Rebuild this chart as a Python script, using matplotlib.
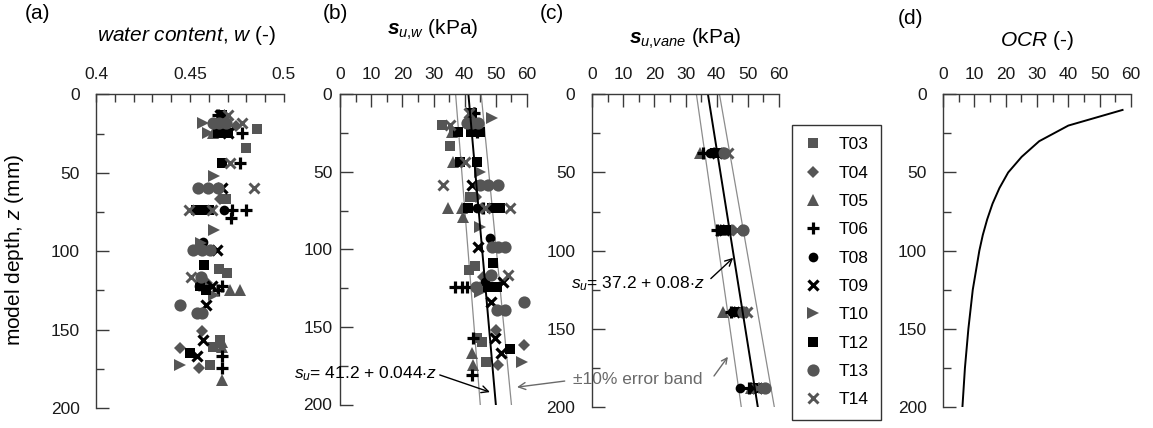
import matplotlib
matplotlib.use('Agg')
import matplotlib.pyplot as plt
import matplotlib.ticker as ticker

plt.rcParams['font.family'] = ['Liberation Sans', 'DejaVu Sans']
plt.rcParams['mathtext.fontset'] = 'custom'
plt.rcParams['mathtext.rm'] = 'Liberation Sans'
plt.rcParams['mathtext.it'] = 'Liberation Sans:italic'
plt.rcParams['mathtext.bf'] = 'Liberation Sans:bold'
try:
	plt.rcParams['mathtext.bfit'] = 'Liberation Sans:italic:bold'
	S_BOLD = r'\mathbfit{s}'
except KeyError:
	S_BOLD = r'\mathbf{s}'

tests = ['T03', 'T04', 'T05', 'T06', 'T08', 'T09', 'T10', 'T12', 'T13', 'T14']

# panel (a): depth (mm) and water content (-)
T03_za = [22.3, 34.4, 66.7, 111.5, 114, 156.5, 160.8, 172.4]
T03_w = [0.4855, 0.4798, 0.469, 0.4656, 0.4695, 0.466, 0.4624, 0.4606]
T04_za = [20, 66.7, 120, 151.2, 161.8, 174.5]
T04_w = [0.4745, 0.466, 0.459, 0.4562, 0.4447, 0.455]
T05_za = [24.8, 124.6, 124.6, 158, 161, 182]
T05_w = [0.462, 0.4713, 0.4766, 0.467, 0.467, 0.4672]
T06_za = [13.2, 24.8, 44, 73.7, 73.7, 79, 122.5, 124.6, 166.7, 174.5]
T06_w = [0.465, 0.4775, 0.4766, 0.4726, 0.480, 0.4716, 0.4668, 0.4649, 0.4668, 0.4668]
T08_za = [18.5, 73.7, 93.9, 122.5]
T08_w = [0.467, 0.4683, 0.457, 0.455]
T09_za = [13.2, 24.8, 59.9, 99.2, 122.5, 134.2, 156.5, 166.7]
T09_w = [0.466, 0.470, 0.467, 0.4645, 0.4617, 0.4585, 0.4567, 0.4535]
T10_za = [18.5, 24.8, 52, 86.4, 95, 127.8, 172.4]
T10_w = [0.4567, 0.4596, 0.4625, 0.4625, 0.456, 0.4625, 0.4447]
T12_za = [13.2, 24.8, 24.8, 44, 73.7, 73.7, 73.7, 108.7, 122.5, 124.6, 165]
T12_w = [0.467, 0.465, 0.470, 0.4669, 0.453, 0.457, 0.460, 0.4576, 0.4555, 0.4583, 0.450]
T13_za = [18.5, 18.5, 18.5, 59.9, 59.9, 59.9, 99.2, 99.2, 99.2, 116.2, 134.2, 139.5, 139.5]
T13_w = [0.462, 0.4655, 0.469, 0.4544, 0.4598, 0.465, 0.4518, 0.4562, 0.4606, 0.456, 0.4447, 0.4535, 0.4562]
T14_za = [13.2, 18.5, 44, 59.9, 73.7, 73.7, 116.2]
T14_w = [0.470, 0.4775, 0.4713, 0.4842, 0.4495, 0.4617, 0.4504]

# panel (b): depth (mm) and su,w (kPa)
T03_zb = [19.8, 33.4, 66, 111, 113.4, 157.4, 159.6, 172.5]
T03_suw = [32.6, 35.3, 41.7, 43.3, 41.5, 44.0, 45.5, 46.9]
T04_zb = [20, 66, 118, 152, 161.8, 174.7]
T04_suw = [44, 43.5, 46, 50.1, 59.1, 50.8]
T05_zb = [24.1, 43.5, 73.5, 73.5, 79, 124.1, 167.1, 174.7]
T05_suw = [36, 36.4, 34.8, 39.1, 39.6, 45, 42.3, 42.8]
T06_zb = [12.3, 24.1, 73.5, 124.1, 124.1, 124.1, 157.4, 181.1]
T06_suw = [43, 44, 46, 36.9, 39.1, 40.7, 42.6, 42.5]
T08_zb = [20, 73.5, 92.9, 120.9]
T08_suw = [43, 44, 48.2, 46.5]
T09_zb = [12.3, 58.5, 98.3, 120.9, 133.8, 157.4, 167.1]
T09_suw = [41.8, 42.3, 44.4, 52.4, 48.4, 49.8, 51.6]
T10_zb = [15.5, 24.1, 49.9, 85.4, 127.4, 172.5]
T10_suw = [48.7, 36.8, 44.9, 44.9, 44.9, 58.3]
T12_zb = [12.3, 24.1, 24.1, 24.1, 43.5, 43.5, 73.5, 73.5, 73.5, 109, 124.1, 124.1, 163.9]
T12_suw = [42.3, 38, 42, 44.9, 38.5, 43.9, 41, 48.7, 51.4, 49, 47.6, 50.3, 54.6]
T13_zb = [18.7, 18.7, 18.7, 58.5, 58.5, 58.5, 98.3, 98.3, 98.3, 116.6, 124.1, 133.8, 139.2, 139.2]
T13_suw = [40.7, 42.5, 44.4, 44.9, 47.6, 50.8, 48.7, 50.8, 53, 48.5, 43.5, 59.1, 50.5, 53]
T14_zb = [12.3, 19.8, 43.5, 58.5, 73.5, 73.5, 116.6]
T14_suw = [41.5, 35.2, 40.1, 33.2, 46.4, 54.6, 54.0]

# panel (c): vane tests at four depths (mm), su,vane (kPa)
vane_z = [37.7, 86.7, 139, 188]
T03_vane = [40.5, 43.5, 47.5, 52.5]
T04_vane = [42, 45, 48, 53.5]
T05_vane = [34.7, 41.5, 42.1, 51]
T06_vane = [35.7, 40.0, 44.5, 50.5]
T08_vane = [38, 41, 45, 47.5]
T09_vane = [40, 42.5, 48, 53]
T10_vane = [41, 44, 47.5, 52.8]
T12_vane = [39.5, 43, 46.4, 51.8]
T13_vane = [42.5, 48.5, 48.5, 55.5]
T14_vane = [43.7, 46.5, 49.7, 53]

# trend lines (end points at z = 0 and 200 mm)
fit_z = [0, 200]
fit_b = [41.2, 50.0]
band_b_low = [37.1, 45.0]
band_b_high = [45.3, 55.0]
fit_c = [37.2, 53.2]
band_c_low = [33.5, 47.9]
band_c_high = [40.9, 58.5]

# panel (d): OCR profile
ocr_z = [10, 20, 30, 40, 50, 60, 70, 80, 90, 100, 125, 150, 175, 200]
ocr = [57.3, 40, 30.7, 25.1, 20.8, 18.0, 15.8, 14.1, 12.7, 11.6, 9.5, 8.1, 7.0, 6.2]

G = '#555555'
K = '#000000'
styles = {
	'T03': dict(marker='s', color=G, ms=7.6, mew=0),
	'T04': dict(marker='D', color=G, ms=6.0, mew=0),
	'T05': dict(marker='^', color=G, ms=9, mew=0),
	'T06': dict(marker='+', color=K, ms=9, mew=2.3),
	'T08': dict(marker='o', color=K, ms=7, mew=0),
	'T09': dict(marker='x', color=K, ms=7.5, mew=2.3),
	'T10': dict(marker='>', color=G, ms=9, mew=0),
	'T12': dict(marker='s', color=K, ms=7.8, mew=0),
	'T13': dict(marker='o', color=G, ms=8.8, mew=0),
	'T14': dict(marker='x', color=G, ms=7.5, mew=2.1),
}
data_a = {'T03': (T03_za, T03_w), 'T04': (T04_za, T04_w), 'T05': (T05_za, T05_w), 'T06': (T06_za, T06_w),
	'T08': (T08_za, T08_w), 'T09': (T09_za, T09_w), 'T10': (T10_za, T10_w), 'T12': (T12_za, T12_w),
	'T13': (T13_za, T13_w), 'T14': (T14_za, T14_w)}
data_b = {'T03': (T03_zb, T03_suw), 'T04': (T04_zb, T04_suw), 'T05': (T05_zb, T05_suw), 'T06': (T06_zb, T06_suw),
	'T08': (T08_zb, T08_suw), 'T09': (T09_zb, T09_suw), 'T10': (T10_zb, T10_suw), 'T12': (T12_zb, T12_suw),
	'T13': (T13_zb, T13_suw), 'T14': (T14_zb, T14_suw)}
data_c = {'T03': T03_vane, 'T04': T04_vane, 'T05': T05_vane, 'T06': T06_vane, 'T08': T08_vane,
	'T09': T09_vane, 'T10': T10_vane, 'T12': T12_vane, 'T13': T13_vane, 'T14': T14_vane}

SPINE = '#3a3a3a'
W, H = 1153, 428

def px_axes(left, right, top, bottom):
	return [left / W, 1 - bottom / H, (right - left) / W, (bottom - top) / H]

def style_axis(ax, ypad, xmaj_len=9, xmin_len=5.5):
	ax.set_ylim(200, 0)
	ax.patch.set_visible(False)
	ax.spines['right'].set_visible(False)
	ax.spines['bottom'].set_visible(False)
	for s in ('left', 'top'):
		ax.spines[s].set_color(SPINE)
		ax.spines[s].set_linewidth(1.0)
	ax.xaxis.tick_top()
	ax.yaxis.set_major_locator(ticker.MultipleLocator(50))
	ax.yaxis.set_minor_locator(ticker.MultipleLocator(25))
	ax.tick_params(which='both', direction='in', width=1, color=SPINE, labelsize=12.5, labelcolor='#1a1a1a')
	ax.tick_params(axis='y', which='major', length=9, pad=ypad)
	ax.tick_params(axis='y', which='minor', length=5.5)
	ax.tick_params(axis='x', which='major', length=xmaj_len, pad=9, top=True, bottom=False)
	ax.tick_params(axis='x', which='minor', length=xmin_len, top=True, bottom=False)

fig = plt.figure(figsize=(W / 100, H / 100), dpi=100)
ax_a = fig.add_axes(px_axes(96, 284, 94.3, 408))
ax_b = fig.add_axes(px_axes(340, 527, 94.3, 404.5))
ax_c = fig.add_axes(px_axes(592, 779, 94.3, 407))
ax_d = fig.add_axes(px_axes(943, 1131, 94.3, 407))

# (a) water content
handles = []
for t in tests:
	z, w = data_a[t]
	h, = ax_a.plot(w, z, linestyle='none', label=t, clip_on=False, **styles[t])
	handles.append(h)
ax_a.set_xlim(0.4, 0.5)
ax_a.xaxis.set_major_locator(ticker.FixedLocator([0.4, 0.45, 0.5]))
ax_a.xaxis.set_minor_locator(ticker.MultipleLocator(0.01))
ax_a.xaxis.set_major_formatter(ticker.FixedFormatter(['0.4', '0.45', '0.5']))
style_axis(ax_a, 11.5, xmaj_len=5.5, xmin_len=5.5)

# (b) su from water content
ax_b.plot(band_b_low, fit_z, color='#8c8c8c', lw=0.9)
ax_b.plot(band_b_high, fit_z, color='#8c8c8c', lw=0.9)
for t in tests:
	z, s = data_b[t]
	ax_b.plot(s, z, linestyle='none', clip_on=False, **styles[t])
ax_b.plot(fit_b, fit_z, color='black', lw=1.4)
ax_b.set_xlim(0, 60)
ax_b.xaxis.set_major_locator(ticker.MultipleLocator(10))
ax_b.xaxis.set_minor_locator(ticker.MultipleLocator(5))
style_axis(ax_b, 5.5)

# (c) su from vane
ax_c.plot(band_c_low, fit_z, color='#8c8c8c', lw=0.9)
ax_c.plot(band_c_high, fit_z, color='#8c8c8c', lw=0.9)
for t in tests:
	ax_c.plot(data_c[t], vane_z, linestyle='none', clip_on=False, **styles[t])
ax_c.plot(fit_c, fit_z, color='black', lw=1.4)
ax_c.set_xlim(0, 60)
ax_c.xaxis.set_major_locator(ticker.MultipleLocator(10))
ax_c.xaxis.set_minor_locator(ticker.MultipleLocator(5))
style_axis(ax_c, 12)

# (d) OCR
ax_d.plot(ocr, ocr_z, color='black', lw=1.4)
ax_d.set_xlim(0, 60)
ax_d.xaxis.set_major_locator(ticker.MultipleLocator(10))
ax_d.xaxis.set_minor_locator(ticker.MultipleLocator(5))
style_axis(ax_d, 11.5)

# axis titles and panel letters
def ftext(x, y, s, **kw):
	fig.text(x / W, 1 - y / H, s, **kw)

ftext(187, 41, r'$\mathit{water\ content{,}\ w}$ (-)', fontsize=15, ha='center', va='baseline')
ftext(433, 35, r'$' + S_BOLD + r'_{u{,}w}$ (kPa)', fontsize=15, ha='center', va='baseline')
ftext(685, 44, r'$' + S_BOLD + r'_{u{,}vane}$ (kPa)', fontsize=15, ha='center', va='baseline')
ftext(1037, 46, r'$\mathit{OCR}$ (-)', fontsize=15, ha='center', va='baseline')
ftext(15, 250, r'model depth, $z$ (mm)', fontsize=15, ha='center', va='center', rotation=90)
for lx, ly, s in [(25, 19, '(a)'), (323, 19, '(b)'), (540, 19, '(c)'), (898, 24, '(d)')]:
	ftext(lx, ly, s, fontsize=15, ha='left', va='baseline')

# annotations
ax_b.annotate(r'$s_u$= 41.2 + 0.044$\cdot z$', xy=(48.1, 192), xycoords='data',
	xytext=(437, H - 374), textcoords='figure pixels', ha='right', va='center', fontsize=12.5,
	annotation_clip=False, zorder=10,
	arrowprops=dict(arrowstyle='->', color='black', lw=1.0, relpos=(1.0, 0.5), shrinkA=0, shrinkB=0))
ax_b.annotate('±10% error band', xy=(56.8, 188.8), xycoords='data',
	xytext=(573, H - 380), textcoords='figure pixels', ha='left', va='center', fontsize=12.5,
	color='#6a6a6a', annotation_clip=False, zorder=10,
	arrowprops=dict(arrowstyle='->', color='#6a6a6a', lw=1.0, relpos=(0.0, 0.5), shrinkA=4, shrinkB=0))
ax_c.annotate('', xy=(43.6, 167.9), xycoords='data', xytext=(714, H - 376), textcoords='figure pixels',
	annotation_clip=False,
	arrowprops=dict(arrowstyle='->', color='#6a6a6a', lw=1.0, shrinkA=0, shrinkB=0))
ax_c.annotate(r'$s_u$= 37.2 + 0.08$\cdot z$', xy=(45.3, 104.6), xycoords='data',
	xytext=(705, H - 284), textcoords='figure pixels', ha='right', va='center', fontsize=12.5,
	annotation_clip=False,
	arrowprops=dict(arrowstyle='->', color='black', lw=1.0, relpos=(1.0, 0.5), shrinkA=3, shrinkB=0))

# legend
leg = fig.legend(handles, tests, loc='upper left', bbox_to_anchor=(792 / W, 1 - 125 / H),
	frameon=True, fancybox=False, edgecolor='black', fontsize=12.5, labelspacing=0.76,
	handlelength=1.0, handletextpad=1.0, borderpad=0.7, borderaxespad=0)
leg.get_frame().set_linewidth(1.0)

plt.savefig('out.png', dpi=100)
